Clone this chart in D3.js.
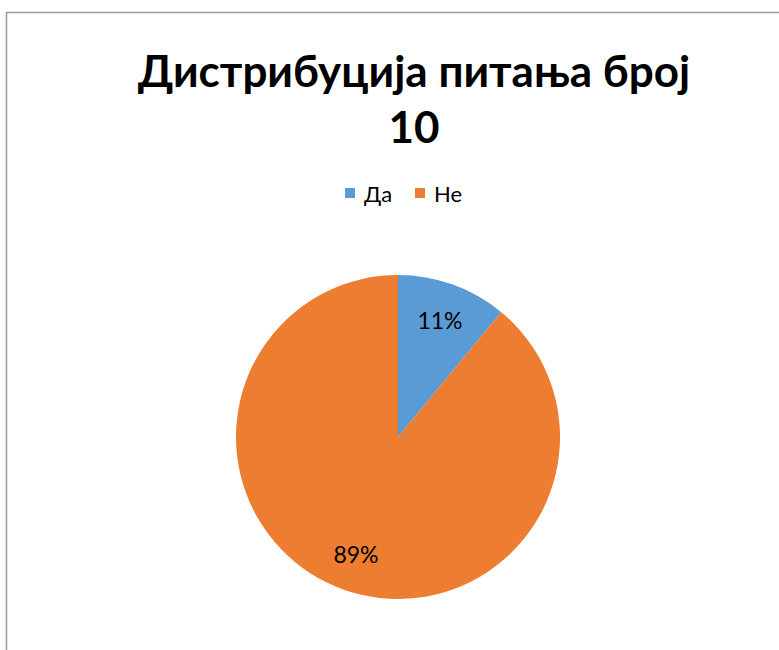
<!DOCTYPE html>
<html>
<head>
<meta charset="utf-8">
<script src="https://cdn.jsdelivr.net/npm/d3@7"></script>
<style>
  html, body { margin: 0; padding: 0; background: #fff; }
  svg { display: block; }
</style>
</head>
<body>
<script>
// Answers to question 10
const categories = ["Да", "Не"];
const values = [11, 89];
const colors = ["#5B9BD5", "#ED7D31"];
const titleLines = ["Дистрибуција питања број", "10"];

const W = 779, H = 650;
const font = "Lato, 'Open Sans', sans-serif";

const svg = d3.select("body").append("svg")
  .attr("width", W).attr("height", H);

// chart frame (extends past the right and bottom edges)
svg.append("rect")
  .attr("x", 6.5).attr("y", 12.5)
  .attr("width", W + 20).attr("height", H + 20)
  .attr("fill", "#fff")
  .attr("stroke", "#9a9a9a")
  .attr("stroke-width", 1.5);

// title
svg.append("g").selectAll("text")
  .data(titleLines)
  .join("text")
  .attr("x", 414)
  .attr("y", (d, i) => 87 + i * 56)
  .attr("text-anchor", "middle")
  .attr("font-family", font)
  .attr("font-weight", "bold")
  .attr("font-size", 44)
  .attr("fill", "#000")
  .text(d => d);

// legend
const legend = svg.append("g").attr("transform", "translate(345,0)");
const legendX = d3.scaleOrdinal().domain(categories).range([0, 70]);
const items = legend.selectAll("g").data(categories).join("g")
  .attr("transform", d => `translate(${legendX(d)},0)`);
items.append("rect")
  .attr("x", 0).attr("y", 188)
  .attr("width", 10).attr("height", 10)
  .attr("fill", (d, i) => colors[i]);
items.append("text")
  .attr("x", 19).attr("y", 202)
  .attr("font-family", font)
  .attr("font-size", 22)
  .attr("fill", "#000")
  .text(d => d);

// pie
const cx = 398, cy = 437, r = 162;
const pie = d3.pie().sort(null).value(d => d)(values);
const arc = d3.arc().innerRadius(0).outerRadius(r);
const labelArc = d3.arc().innerRadius(124).outerRadius(124);

const g = svg.append("g").attr("transform", `translate(${cx},${cy})`);
g.selectAll("path").data(pie).join("path")
  .attr("d", arc)
  .attr("fill", (d, i) => colors[i]);

const total = d3.sum(values);
g.selectAll("text.lbl").data(pie).join("text")
  .attr("class", "lbl")
  .attr("transform", d => `translate(${labelArc.centroid(d)})`)
  .attr("text-anchor", "middle")
  .attr("dominant-baseline", "central")
  .attr("font-family", font)
  .attr("font-size", 23)
  .attr("fill", "#000")
  .text(d => Math.round(d.data / total * 100) + "%");
</script>
</body>
</html>
